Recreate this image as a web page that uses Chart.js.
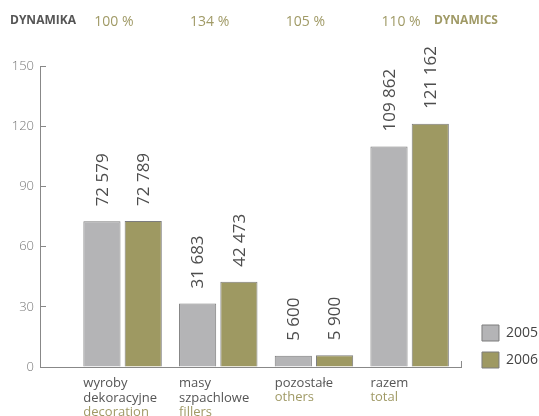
<!DOCTYPE html>
<html>
<head>
<meta charset="utf-8">
<script src="https://cdn.jsdelivr.net/npm/chart.js@4.4.1/dist/chart.umd.min.js"></script>
<style>
html, body { margin: 0; padding: 0; background: #fff; }
#wrap { width: 539px; height: 416px; }
</style>
</head>
<body>
<div id="wrap"><canvas id="chart"></canvas></div>
<script>
// dane (tys. ton)
const categoriesPl = [['wyroby', 'dekoracyjne'], ['masy', 'szpachlowe'], ['pozostałe'], ['razem']];
const categoriesEn = ['decoration', 'fillers', 'others', 'total'];
const dynamics = ['100 %', '134 %', '105 %', '110 %'];
const years = ['2005', '2006'];
const values2005 = [72.579, 31.683, 5.6, 109.862];
const values2006 = [72.789, 42.473, 5.9, 121.162];
const labels2005 = ['72 579', '31 683', '5 600', '109 862'];
const labels2006 = ['72 789', '42 473', '5 900', '121 162'];
const yTicks = [0, 30, 60, 90, 120, 150];

const GRAY = '#b4b4b6';
const OLIVE = '#9e9962';
const OLIVE_TEXT = '#a09a66';
const FONT = '"Open Sans", Lato, sans-serif';

const valueLabels = [labels2005, labels2006];

const extrasPlugin = {
    id: 'extras',
    afterLayout(chart) {
        // legenda trochę dalej od osi i wyrównana do dołu wykresu
        const lg = chart.legend;
        lg.left += 9; lg.right += 9;
        lg.top += 12; lg.bottom += 12;
    },
    afterDatasetsDraw(chart) {
        const ctx = chart.ctx;
        ctx.save();
        ctx.fillStyle = '#4d4d4d';
        ctx.font = '17px ' + FONT;
        ctx.textAlign = 'left';
        ctx.textBaseline = 'middle';
        chart.data.datasets.forEach((ds, di) => {
            chart.getDatasetMeta(di).data.forEach((bar, i) => {
                ctx.save();
                ctx.translate(bar.x, bar.y - 15);
                ctx.rotate(-Math.PI / 2);
                ctx.fillText(valueLabels[di][i], 0, 1);
                ctx.restore();
            });
        });
        ctx.restore();
    },
    afterDraw(chart) {
        const ctx = chart.ctx;
        const x = chart.scales.x;
        const area = chart.chartArea;
        ctx.save();
        // końcowa kreska osi X
        ctx.strokeStyle = '#888';
        ctx.lineWidth = 1;
        ctx.beginPath();
        ctx.moveTo(area.right - 0.5, area.bottom);
        ctx.lineTo(area.right - 0.5, area.bottom - 6);
        ctx.stroke();

        // podpisy angielskie
        ctx.fillStyle = OLIVE_TEXT;
        ctx.font = '13px ' + FONT;
        ctx.textAlign = 'left';
        ctx.textBaseline = 'middle';
        categoriesEn.forEach((t, i) => {
            const px = x.getPixelForValue(i - 0.41);
            ctx.fillText(t, px, area.bottom + 15 + categoriesPl[i].length * 15);
        });

        // wiersz dynamiki
        ctx.font = 'bold 12px ' + FONT;
        ctx.fillStyle = '#555';
        ctx.fillText('DYNAMIKA', 10, 21);
        ctx.fillStyle = OLIVE_TEXT;
        ctx.fillText('DYNAMICS', area.right - 28, 21);
        ctx.font = '14px ' + FONT;
        ctx.textAlign = 'center';
        dynamics.forEach((t, i) => {
            ctx.fillText(t, x.getPixelForValue(i - 0.09), 22);
        });
        ctx.restore();
    }
};

new Chart(document.getElementById('chart'), {
    type: 'bar',
    data: {
        datasets: [
            {
                label: years[0],
                data: values2005.map((v, i) => ({ x: i, y: v })),
                backgroundColor: GRAY,
                borderColor: '#7d7d7d',
                borderWidth: 1
            },
            {
                label: years[1],
                data: values2006.map((v, i) => ({ x: i, y: v })),
                backgroundColor: OLIVE,
                borderColor: '#7d7d7d',
                borderWidth: 1
            }
        ]
    },
    plugins: [extrasPlugin],
    options: {
        responsive: true,
        maintainAspectRatio: false,
        animation: false,
        categoryPercentage: 0.863,
        barPercentage: 0.9,
        layout: { padding: { top: 66, right: 0, bottom: 0, left: 0 } },
        plugins: {
            tooltip: { enabled: false },
            legend: {
                position: 'right',
                align: 'end',
                fullSize: false,
                labels: {
                    boxWidth: 17,
                    boxHeight: 16,
                    padding: 11,
                    color: '#444',
                    font: { family: FONT, size: 14 }
                }
            }
        },
        scales: {
            x: {
                type: 'linear',
                offset: false,
                min: -0.863,
                max: 3.547,
                afterBuildTicks: s => { s.ticks = categoriesPl.map((_, i) => ({ value: i - 0.41 })); },
                afterFit: s => { s.height = 49; },
                grid: { display: false },
                border: { display: true, color: '#888', width: 1 },
                ticks: {
                    align: 'start',
                    autoSkip: false,
                    maxRotation: 0,
                    minRotation: 0,
                    padding: 1,
                    color: '#555',
                    font: { family: FONT, size: 13, lineHeight: 1.154 },
                    callback: (v, i) => categoriesPl[i]
                }
            },
            y: {
                min: 0,
                max: 150,
                afterBuildTicks: s => { s.ticks = yTicks.map(v => ({ value: v })); },
                afterFit: s => { s.width = 40; },
                grid: { drawOnChartArea: false, tickLength: -6, color: '#888' },
                border: { display: true, color: '#888', width: 1 },
                ticks: {
                    padding: 12,
                    color: '#777',
                    font: { family: FONT, size: 13, weight: 300 }
                }
            }
        }
    }
});
</script>
</body>
</html>
